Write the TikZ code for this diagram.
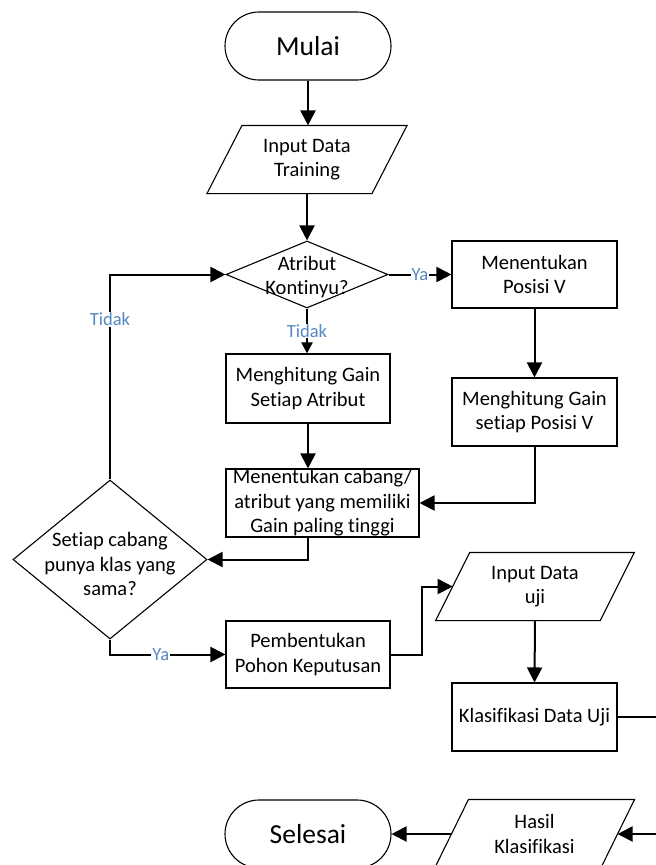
\documentclass[tikz,border=0pt]{standalone}
\usepackage{fontspec}
\setmainfont[Ligatures={NoCommon}]{Carlito}
\usetikzlibrary{arrows.meta,shapes.geometric,shapes.misc,calc}
\definecolor{lblue}{RGB}{84,136,196}
\begin{document}
\begin{tikzpicture}[x=1pt,y=-1pt,
  shapebox/.style={draw, line width=1.1pt, inner sep=0pt, align=center, font=\fontsize{20.5}{24.5}\selectfont},
  procbox/.style={shapebox, rectangle, minimum height=68pt},
  term/.style={shapebox, rounded rectangle, minimum width=166pt, minimum height=68pt, font=\fontsize{27.5}{30}\selectfont},
  iobox/.style={shapebox, draw=none, rectangle, minimum width=164pt, minimum height=67pt},
  decision/.style={draw, line width=1.1pt, diamond, inner sep=0pt},
  txt/.style={inner sep=0pt, align=center, font=\fontsize{20.5}{24.5}\selectfont},
  conn/.style={line width=2pt, -{Triangle[length=15pt,width=15pt]}},
  connsmall/.style={line width=2pt, -{Triangle[length=11pt,width=11pt]}},
  lbl/.style={text=lblue, fill=white, inner sep=1pt, font=\fontsize{18.5}{20}\selectfont},
  para/.style={line width=1.1pt},
]
\useasboundingbox (0,0) rectangle (656,865);

% shapes
\node[term] (mulai) at (308,46) {Mulai};
\node[iobox] (intd) at (307,159.5) {Input Data\\Training};
\node[decision, minimum width=162pt, minimum height=67pt] (d1) at (307,274.5) {};
\node[txt] (d1t) at (307,277) {Atribut\\Kontinyu?};
\node[procbox, minimum width=164pt, minimum height=69pt] (mg1) at (308,388.5) {Menghitung Gain\\Setiap Atribut};
\node[procbox, minimum width=165pt, minimum height=67pt] (menV) at (534.5,274.5) {Menentukan\\Posisi V};
\node[procbox, minimum width=165pt] (mgV) at (534.5,412) {Menghitung Gain\\setiap Posisi V};
\node[procbox, minimum width=193pt] (cab) at (322.5,503) {Menentukan cabang/\\atribut yang memiliki\\Gain paling tinggi};
\node[decision, minimum width=194pt, minimum height=159pt] (d2) at (110,559.5) {};
\node[txt] (d2t) at (110,564) {Setiap cabang\\punya klas yang\\sama?};
\node[procbox, minimum width=164pt, minimum height=67pt] (pemb) at (308,654.5) {Pembentukan\\Pohon Keputusan};
\node[iobox, minimum width=163.5pt] (inuji) at (535,586.5) {Input Data\\uji};
\node[procbox, minimum width=165pt] (klas) at (534.5,717) {Klasifikasi Data Uji};
\node[iobox, minimum width=165pt, minimum height=68pt] (hasil) at (534.5,834) {Hasil\\Klasifikasi};
\node[term] (selesai) at (308,834) {Selesai};

% parallelogram outlines
\foreach \n/\s in {intd/17.5, inuji/17, hasil/17}
  \draw[para] ([xshift=\s pt]\n.north west) -- ([xshift=\s pt]\n.north east)
     -- ([xshift=-\s pt]\n.south east) -- ([xshift=-\s pt]\n.south west) -- cycle;

% connectors
\draw[conn] (mulai.south) -- (mulai.south |- intd.north);
\draw[conn] (intd.south) -- (intd.south |- d1.north);
\draw[conn] (d1.east) -- node[lbl]{Ya} (menV.west);
\draw[connsmall] (d1.south) -- node[lbl]{Tidak} (d1.south |- mg1.north);
\draw[conn] (menV.south) -- (mgV.north);
\draw[conn] (mg1.south) -- (mg1.south |- cab.north);
\draw[conn] (mgV.south) |- (cab.east);
\draw[conn] (mg1.south |- cab.south) |- (d2.east);
\draw[conn] (d2.north) |- node[lbl, pos=0.39]{Tidak} (d1.west);
\draw[conn] (d2.south) |- node[lbl, pos=0.72]{Ya} (pemb.west);
\coordinate (m1) at ($(pemb.east)!0.5!(inuji.west)$);
\draw[conn] (pemb.east) -| (m1) |- (inuji.west);
\draw[conn] (inuji.south) -- (klas.north);
\coordinate (rout) at ($(klas.east)+(60,60)$);
\draw[conn] (klas.east) -| (rout) |- (hasil.east);
\draw[conn] (hasil.west) -- (selesai.east);
\end{tikzpicture}
\end{document}
